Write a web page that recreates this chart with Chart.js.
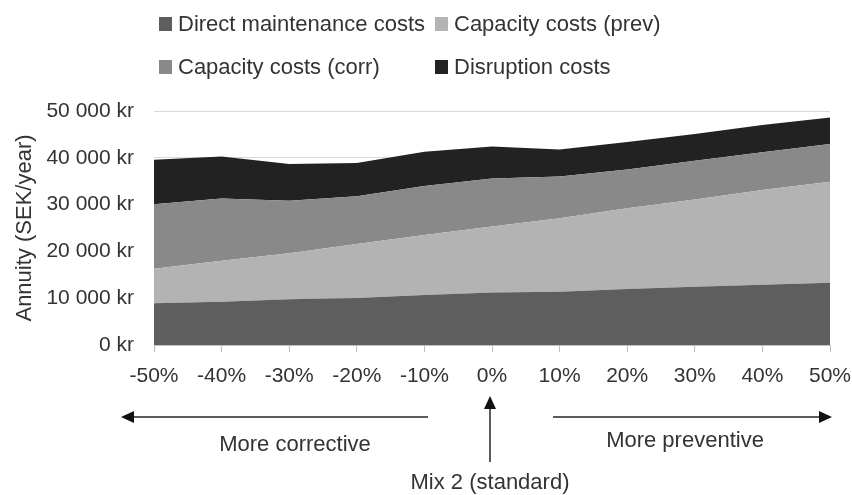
<!DOCTYPE html>
<html>
<head>
<meta charset="utf-8">
<script src="https://cdn.jsdelivr.net/npm/chart.js@4/dist/chart.umd.min.js"></script>
<style>
    body { margin: 0; background: #fff; }
    #caja { width: 852px; height: 495px; }
</style>
</head>
<body>
<div id="caja"><canvas id="myChart" width="852" height="495"></canvas></div>
<script>
// datos (SEK/año)
const categorias = ["-50%", "-40%", "-30%", "-20%", "-10%", "0%", "10%", "20%", "30%", "40%", "50%"];
const directos = [8900, 9250, 9750, 10050, 10700, 11200, 11400, 11950, 12450, 12900, 13300];
const capacidadPrev = [7400, 8750, 9850, 11550, 12800, 14100, 15700, 17250, 18650, 20200, 21600];
const capacidadCorr = [13800, 13300, 11200, 10200, 10500, 10300, 8900, 8300, 8250, 8100, 8050];
const interrupcion = [9500, 9000, 7900, 7100, 7300, 6800, 5800, 5900, 5750, 5800, 5650];
const ticksY = [0, 10000, 20000, 30000, 40000, 50000];

const fuente = '"Liberation Sans", Arial, sans-serif';
const colorTexto = "#333333";

function formatoKr(valor) {
    return String(valor).replace(/\B(?=(\d{3})+(?!\d))/g, " ") + " kr";
}

function serie(label, data, color, relleno) {
    return {
        label: label,
        data: data,
        backgroundColor: color,
        borderWidth: 0,
        pointRadius: 0,
        fill: relleno,
        tension: 0
    };
}

function flecha(ctx, x1, y1, x2, y2) {
    const ang = Math.atan2(y2 - y1, x2 - x1);
    const largo = 13, ancho = 6;
    ctx.beginPath();
    ctx.moveTo(x1, y1);
    ctx.lineTo(x2 - Math.cos(ang) * largo, y2 - Math.sin(ang) * largo);
    ctx.stroke();
    ctx.beginPath();
    ctx.moveTo(x2, y2);
    ctx.lineTo(x2 - Math.cos(ang) * largo - Math.sin(ang) * ancho, y2 - Math.sin(ang) * largo + Math.cos(ang) * ancho);
    ctx.lineTo(x2 - Math.cos(ang) * largo + Math.sin(ang) * ancho, y2 - Math.sin(ang) * largo - Math.cos(ang) * ancho);
    ctx.closePath();
    ctx.fill();
}

// leyenda en dos columnas, como en el original
const leyenda = {
    id: "leyenda",
    afterDraw(chart) {
        const ctx = chart.ctx;
        const ds = chart.data.datasets;
        ctx.save();
        ctx.font = "22px " + fuente;
        ctx.textBaseline = "middle";
        const col1 = Math.max(ctx.measureText(ds[0].label).width, ctx.measureText(ds[2].label).width);
        const xs = [159, 159 + 19 + col1 + 10];
        ds.forEach((d, i) => {
            const x = xs[i % 2];
            const y = i < 2 ? 24 : 67;
            ctx.fillStyle = d.backgroundColor;
            ctx.fillRect(x, y - 7, 13, 14);
            ctx.fillStyle = colorTexto;
            ctx.fillText(d.label, x + 19, y + 1);
        });
        ctx.restore();
    }
};

// flechas y textos debajo del eje x
const anotaciones = {
    id: "anotaciones",
    afterDraw(chart) {
        const ctx = chart.ctx;
        const x0 = chart.scales.x.getPixelForValue(5) - 2;
        ctx.save();
        ctx.strokeStyle = "#262626";
        ctx.fillStyle = "#111111";
        ctx.lineWidth = 1.5;
        flecha(ctx, 428, 417, 121, 417);
        flecha(ctx, 553, 417, 832, 417);
        flecha(ctx, x0, 462, x0, 396);
        ctx.fillStyle = colorTexto;
        ctx.font = "22px " + fuente;
        ctx.textAlign = "center";
        ctx.textBaseline = "middle";
        ctx.fillText("More corrective", 295, 445);
        ctx.fillText("More preventive", 685, 441);
        ctx.fillText("Mix 2 (standard)", x0, 483);
        ctx.restore();
    }
};

window.onload = () => {
    const ctx = document.getElementById("myChart").getContext("2d");
    new Chart(ctx, {
        type: "line",
        data: {
            labels: categorias,
            datasets: [
                serie("Direct maintenance costs", directos, "#5e5e5e", "origin"),
                serie("Capacity costs (prev)", capacidadPrev, "#b3b3b3", "-1"),
                serie("Capacity costs (corr)", capacidadCorr, "#898989", "-1"),
                serie("Disruption costs", interrupcion, "#222222", "-1")
            ]
        },
        options: {
            responsive: false,
            animation: false,
            layout: { padding: { top: 111, left: 8, right: 22, bottom: 0 } },
            plugins: {
                legend: { display: false },
                tooltip: { enabled: false }
            },
            scales: {
                x: {
                    offset: false,
                    grid: { drawOnChartArea: false, drawTicks: true, tickLength: 7, color: "#bfbfbf" },
                    border: { display: true, color: "#bfbfbf", width: 1 },
                    ticks: { color: colorTexto, font: { family: fuente, size: 21 }, padding: 12, maxRotation: 0, autoSkip: false },
                    afterFit: (s) => {
                        s.height = 150;
                        s.paddingLeft = 0;
                        s.paddingRight = 0;
                    }
                },
                y: {
                    stacked: true,
                    min: 0,
                    max: 50000,
                    afterBuildTicks: (s) => { s.ticks = ticksY.map(v => ({ value: v })); },
                    grid: { color: "#d9d9d9", drawTicks: false },
                    border: { display: false },
                    ticks: { color: colorTexto, font: { family: fuente, size: 21 }, padding: 20, callback: (v) => formatoKr(v) },
                    title: { display: true, text: "Annuity (SEK/year)", color: colorTexto, font: { family: fuente, size: 22 } },
                    afterFit: (s) => { s.width = 146; }
                }
            }
        },
        plugins: [leyenda, anotaciones]
    });
};
</script>
</body>
</html>
